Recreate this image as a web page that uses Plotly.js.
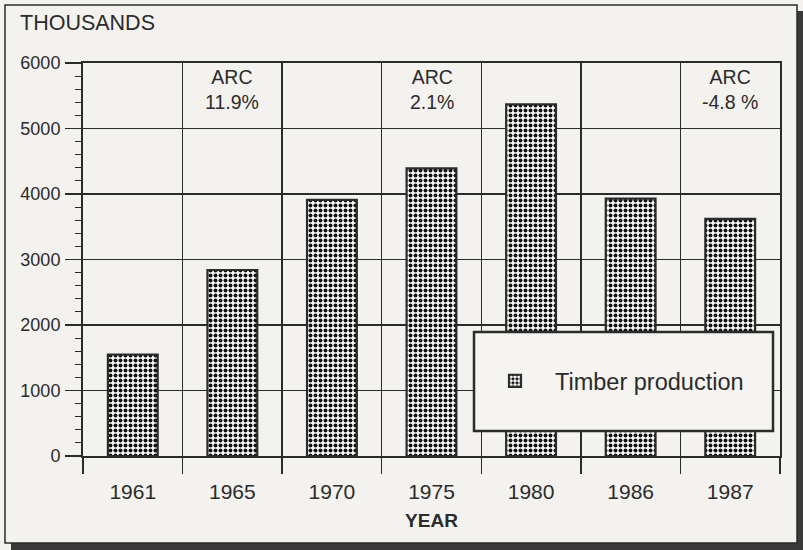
<!DOCTYPE html>
<html>
<head>
<meta charset="utf-8">
<script src="https://cdn.plot.ly/plotly-3.0.1.min.js"></script>
<style>
html,body{margin:0;padding:0;background:#f3f2ee;}
#chart{width:803px;height:550px;}
</style>
</head>
<body>
<div id="chart"></div>
<script>
// Data
const years = ["1961", "1965", "1970", "1975", "1980", "1986", "1987"];
const production = [1550, 2840, 3910, 4390, 5370, 3930, 3620];
const seriesName = "Timber production";
const arcYears = ["1965", "1975", "1987"];
const arcLabels = ["ARC<br>11.9%", "ARC<br>2.1%", "ARC<br>-4.8 %"];
const yTicks = [0, 1000, 2000, 3000, 4000, 5000, 6000];

const ink = "#2b2b2b";
const bg = "#f3f2ee";

// plot area geometry helpers (paper coords)
const L = 83, R = 780, T = 63, B = 456;
const px = v => (v - L) / (R - L);
const py = v => (B - v) / (B - T);

const trace = {
  type: "bar",
  x: years,
  y: production,
  name: seriesName,
  width: 0.5,
  marker: {
    color: "#ffffff",
    line: {color: ink, width: 2.2},
    pattern: {shape: ".", fgcolor: "#111111", bgcolor: "#ffffff", size: 5, solidity: 0.5}
  },
  showlegend: true,
  hoverinfo: "x+y"
};

const annotations = arcYears.map((yr, i) => ({
  x: years.indexOf(yr), xref: "x", y: py(89.5), yref: "paper",
  text: arcLabels[i], showarrow: false,
  font: {size: 19.5, color: ink}, align: "center",
  xanchor: "center", yanchor: "middle"
}));
annotations.push({
  x: px(18), xref: "paper", y: py(23), yref: "paper",
  text: "THOUSANDS", showarrow: false, xanchor: "left", yanchor: "middle",
  font: {size: 21.5, color: ink}
});

const shapes = [
  // drop shadow
  {type: "rect", xref: "paper", yref: "paper", layer: "below",
   x0: px(11), x1: px(806), y0: py(553), y1: py(11),
   fillcolor: "#3a3a3a", line: {width: 0}},
  // frame
  {type: "rect", xref: "paper", yref: "paper", layer: "below",
   x0: px(5), x1: px(797), y0: py(543), y1: py(5),
   fillcolor: bg, line: {color: ink, width: 1.5}},
  // legend box
  {type: "rect", xref: "paper", yref: "paper", layer: "above",
   x0: px(474), x1: px(773), y0: py(431), y1: py(332),
   fillcolor: "#f5f4f1", line: {color: ink, width: 2.5}}
];

const layout = {
  width: 803, height: 550,
  margin: {l: L, r: 803 - R, t: T, b: 550 - B, pad: 0},
  paper_bgcolor: bg,
  plot_bgcolor: "rgba(0,0,0,0)",
  font: {family: "Liberation Sans, Arial, sans-serif", color: ink},
  xaxis: {
    type: "category",
    categoryorder: "array",
    categoryarray: years,
    range: [-0.5, years.length - 0.5],
    autorange: false,
    tickson: "boundaries",
    ticks: "outside", ticklen: 16, tickwidth: 1.5, tickcolor: ink,
    showgrid: true, gridcolor: ink, gridwidth: 1.5,
    showline: true, linecolor: ink, linewidth: 2, mirror: true,
    tickfont: {size: 21, color: ink},
    tickangle: 0,
    ticklabelstandoff: 16,
    title: {text: "<b>YEAR</b>", font: {size: 19, color: ink}, standoff: 11},
    fixedrange: true
  },
  yaxis: {
    range: [0, 6000],
    autorange: false,
    tickvals: yTicks,
    ticktext: yTicks.map(String),
    ticks: "outside", ticklen: 16, tickwidth: 1.5, tickcolor: ink,
    minor: {dtick: 200, tick0: 0, ticks: "outside", ticklen: 6, tickwidth: 1, tickcolor: ink, showgrid: false},
    showgrid: true, gridcolor: ink, gridwidth: 1.5,
    showline: true, linecolor: ink, linewidth: 2, mirror: true,
    zeroline: false,
    tickfont: {size: 18, color: ink},
    ticklabelstandoff: 1,
    fixedrange: true
  },
  showlegend: true,
  legend: {
    x: px(475), y: py(381), xanchor: "left", yanchor: "middle",
    bgcolor: "rgba(0,0,0,0)", borderwidth: 0,
    font: {size: 23.5, color: ink},
    itemwidth: 70
  },
  annotations: annotations,
  shapes: shapes
};

Plotly.newPlot("chart", [trace], layout, {displayModeBar: false, staticPlot: true});
</script>
</body>
</html>
